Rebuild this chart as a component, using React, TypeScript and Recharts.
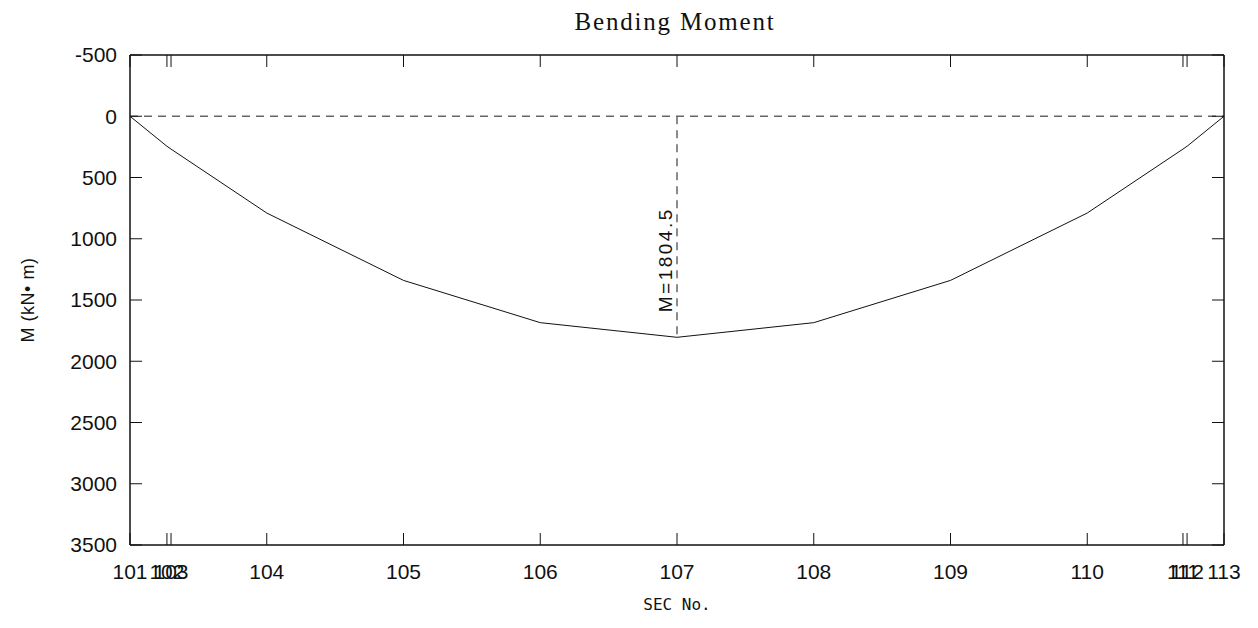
import React from 'react'
import { LineChart, Line, XAxis, YAxis, ReferenceLine } from 'recharts'

// 断面番号と位置（101→0, 104→1 ... 110→7, 113→8）
const sections = ['101', '102', '103', '104', '105', '106', '107', '108', '109', '110', '111', '112', '113']
const sectionPos = [0, 0.27, 0.3, 1, 2, 3, 4, 5, 6, 7, 7.7, 7.73, 8]
const moments = [0, 245, 268, 790, 1340, 1685, 1804.5, 1685, 1340, 790, 268, 245, 0]
const momentTicks = [-500, 0, 500, 1000, 1500, 2000, 2500, 3000, 3500]

const data = sections.map((s, i) => ({ sec: s, x: sectionPos[i], m: moments[i] }))

const maxIndex = moments.indexOf(Math.max(...moments))
const maxX = sectionPos[maxIndex]
const maxM = moments[maxIndex]

const W = 1242
const H = 612
const sans = '"Liberation Sans", Arial, sans-serif'

const labelFor = (v: number) => {
  const i = sectionPos.indexOf(v)
  return i >= 0 ? sections[i] : ''
}

// 目盛り線だけ描く（ラベルなし）
const NoLabel = () => <g />

const MaxLabel = (props: any) => {
  const vb = props.viewBox || {}
  const x = (vb.x ?? 0) - 11
  const yBottom = (vb.y ?? 0) + (vb.height ?? 0) - 25
  return (
    <text
      x={x}
      y={yBottom}
      transform={`rotate(-90 ${x} ${yBottom})`}
      textAnchor="start"
      dominantBaseline="central"
      fontFamily={sans}
      fontSize={19}
      letterSpacing={2.5}
      fill="#111"
    >
      M={maxM}
    </text>
  )
}

const xCommon = {
  dataKey: 'x',
  type: 'number' as const,
  domain: [0, 8],
  allowDataOverflow: true,
  ticks: sectionPos,
  interval: 0 as const,
}

const yCommon = {
  dataKey: 'm',
  type: 'number' as const,
  domain: [-500, 3500],
  allowDataOverflow: true,
  reversed: true,
  ticks: momentTicks,
  interval: 0 as const,
}

export default function App() {
  return (
    <div style={{ position: 'relative', width: W, height: H }}>
      <div
        style={{
          position: 'absolute', left: 0, top: 0, width: 1334, textAlign: 'center',
          fontFamily: '"Liberation Serif", "Times New Roman", serif', fontSize: 25,
          letterSpacing: 1.8, lineHeight: '28px', color: '#111',
        }}
      >
        Bending Moment
      </div>
      <div
        style={{
          position: 'absolute', left: 20, top: 292, width: 0, height: 0,
        }}
      >
        <div
          style={{
            position: 'absolute', left: -60, top: -10, width: 120, textAlign: 'center',
            transform: 'rotate(-90deg)', fontFamily: sans, fontSize: 18, letterSpacing: 0.5,
            lineHeight: '20px', whiteSpace: 'nowrap', color: '#111',
          }}
        >
          M (kN• m)
        </div>
      </div>
      <div
        style={{
          position: 'absolute', left: 569, top: 588, width: 200, textAlign: 'center',
          fontFamily: '"DejaVu Sans Mono", "Liberation Mono", monospace', fontSize: 16,
          lineHeight: '18px', color: '#111',
        }}
      >
        SEC No.
      </div>
      <LineChart width={W} height={H} data={data} margin={{ top: 47, right: 26, bottom: 0, left: 0 }}>
        <XAxis
          {...xCommon}
          xAxisId="bottom"
          tickFormatter={labelFor}
          tickLine={false}
          tickSize={0}
          tickMargin={19}
          height={75}
          axisLine={{ stroke: '#111', strokeWidth: 1.5 }}
          tick={{ fontFamily: sans, fontSize: 21, fill: '#111' }}
        />
        <XAxis
          {...xCommon}
          xAxisId="bottomTicks"
          mirror
          tick={<NoLabel />}
          tickSize={12}
          tickLine={{ stroke: '#111' }}
          axisLine={false}
        />
        <XAxis
          {...xCommon}
          xAxisId="top"
          orientation="top"
          mirror
          tick={<NoLabel />}
          tickSize={12}
          tickLine={{ stroke: '#111' }}
          axisLine={{ stroke: '#111', strokeWidth: 1.5 }}
        />
        <YAxis
          {...yCommon}
          yAxisId="left"
          width={122}
          tickLine={false}
          tickSize={0}
          tickMargin={13}
          axisLine={{ stroke: '#111', strokeWidth: 1.5 }}
          tick={{ fontFamily: sans, fontSize: 21, fill: '#111' }}
        />
        <YAxis
          {...yCommon}
          yAxisId="leftTicks"
          mirror
          tick={<NoLabel />}
          tickSize={12}
          tickLine={{ stroke: '#111' }}
          axisLine={false}
        />
        <YAxis
          {...yCommon}
          yAxisId="right"
          orientation="right"
          mirror
          tick={<NoLabel />}
          tickSize={12}
          tickLine={{ stroke: '#111' }}
          axisLine={{ stroke: '#111', strokeWidth: 1.5 }}
        />
        <ReferenceLine
          xAxisId="bottom"
          yAxisId="left"
          y={0}
          stroke="#666"
          strokeWidth={1.5}
          strokeDasharray="8 6"
        />
        <ReferenceLine
          xAxisId="bottom"
          yAxisId="left"
          segment={[{ x: maxX, y: 0 }, { x: maxX, y: maxM }]}
          stroke="#666"
          strokeWidth={1.5}
          strokeDasharray="8 6"
          label={<MaxLabel />}
        />
        <Line
          xAxisId="bottom"
          yAxisId="left"
          type="linear"
          dataKey="m"
          stroke="#111"
          strokeWidth={1}
          dot={false}
          isAnimationActive={false}
        />
      </LineChart>
    </div>
  )
}
